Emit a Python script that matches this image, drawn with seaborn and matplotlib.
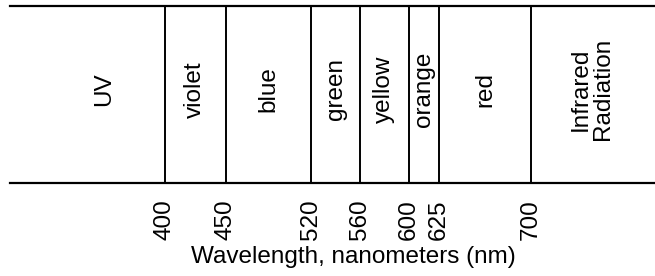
import numpy as np
import pandas as pd
import matplotlib
matplotlib.use('Agg')
import matplotlib.pyplot as plt
import seaborn as sns

# Band edges of the visible spectrum (nm)
edges = [400, 450, 520, 560, 600, 625, 700]
band_names = ['UV', 'violet', 'blue', 'green', 'yellow', 'orange', 'red',
              'Infrared\nRadiation']
# outer limits used only for the UV / infrared bands
band_lo = [300] + edges
band_hi = edges + [800]
tick_labels = [str(e) for e in edges]

sns.set_theme(style='white')
plt.rcParams['font.family'] = ['Liberation Sans', 'DejaVu Sans']

fig = plt.figure(figsize=(6.55, 2.76), dpi=100)
ax = fig.add_axes([0.0153, 0.337, 0.9847, 0.641])

# band boundaries as full-height lines
sns.rugplot(x=edges, height=1, color='black', linewidth=1.4, ax=ax,
            expand_margins=False)

bands = pd.DataFrame({'name': band_names, 'lo': band_lo, 'hi': band_hi})
bands['mid'] = (bands['lo'] + bands['hi']) / 2
for _, row in bands.iterrows():
    ax.text(row['mid'], 0.53, row['name'], rotation=90, ha='center',
            va='center', multialignment='center', linespacing=1.0,
            fontsize=17.5, color='black', transform=ax.get_xaxis_transform())

ax.set_xlim(273, 802)
ax.set_ylim(0, 1)
ax.set_yticks([])
ax.set_xticks(edges)
ax.set_xticklabels(tick_labels, rotation=90, fontsize=17.5, color='black')
ax.tick_params(axis='x', length=0, pad=12)
ax.set_xlabel('Wavelength, nanometers (nm)', fontsize=17.5, color='black')
ax.xaxis.set_label_coords(0.533, -0.355)
ax.xaxis.label.set_verticalalignment('top')

for side in ['left', 'right']:
    ax.spines[side].set_visible(False)
for side in ['top', 'bottom']:
    ax.spines[side].set_visible(True)
    ax.spines[side].set_color('black')
    ax.spines[side].set_linewidth(1.6)

fig.savefig('out.png', dpi=100)
